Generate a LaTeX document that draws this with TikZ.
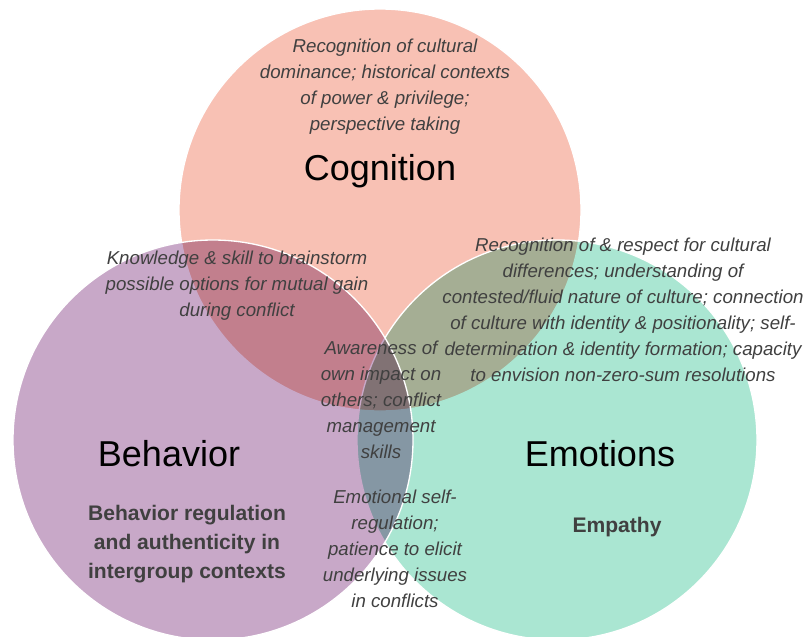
\documentclass[tikz,border=0pt]{standalone}
\usepackage{fontspec}
\setmainfont{Liberation Sans}
\definecolor{cogfill}{HTML}{F8C1B4}
\definecolor{behfill}{HTML}{C8A8C8}
\definecolor{emofill}{HTML}{AAE6D2}
\definecolor{txtgray}{HTML}{404040}

\begin{document}
\begin{tikzpicture}[x=0.75pt,y=-0.75pt,
    title/.style={font=\fontsize{27}{32}\selectfont, text=black},
    note/.style={font=\fontsize{14}{19.5}\selectfont\itshape, text=txtgray, align=center},
    keynote/.style={font=\fontsize{15.8}{22}\selectfont\bfseries, text=txtgray, align=center}]
\useasboundingbox (0,0) rectangle (806,636);
\clip (0,0) rectangle (806,636);
\coordinate (cogc) at (380,210);
\coordinate (emoc) at (557,440);
\coordinate (behc) at (213,440);
% circles, darker where they overlap
\foreach \c/\col/\r in {cogc/cogfill/201, emoc/emofill/200, behc/behfill/200} {
    \begin{scope}[blend mode=multiply]
        \fill[\col] (\c) circle (\r);
    \end{scope}
    \draw[white, line width=1pt] (\c) circle (\r);
}
% texts
\node[note] (cogtxt) at (385,87) {Recognition of cultural\\dominance; historical contexts\\of power \& privilege;\\perspective taking};
\node[title] (cogname) at (380,171) {Cognition};
\node[note] (cbtxt) at (237,286) {Knowledge \& skill to brainstorm\\possible options for mutual gain\\during conflict};
\node[note] (cetxt) at (623,310) {Recognition of \& respect for cultural\\differences; understanding of\\contested/fluid nature of culture; connection\\of culture with identity \& positionality; self-\\determination \& identity formation; capacity\\to envision non-zero-sum resolutions};
\node[note] (alltxt) at (381,400) {Awareness of\\own impact on\\others; conflict\\management\\skills};
\node[note] (betxt) at (395,549) {Emotional self-\\regulation;\\patience to elicit\\underlying issues\\in conflicts};
\node[title] (behname) at (169,454) {Behavior};
\node[keynote] (behtxt) at (187,544) {Behavior regulation\\and authenticity in\\intergroup contexts};
\node[title] (emoname) at (600,454) {Emotions};
\node[keynote] (emotxt) at (617,527) {Empathy};
\end{tikzpicture}
\end{document}
